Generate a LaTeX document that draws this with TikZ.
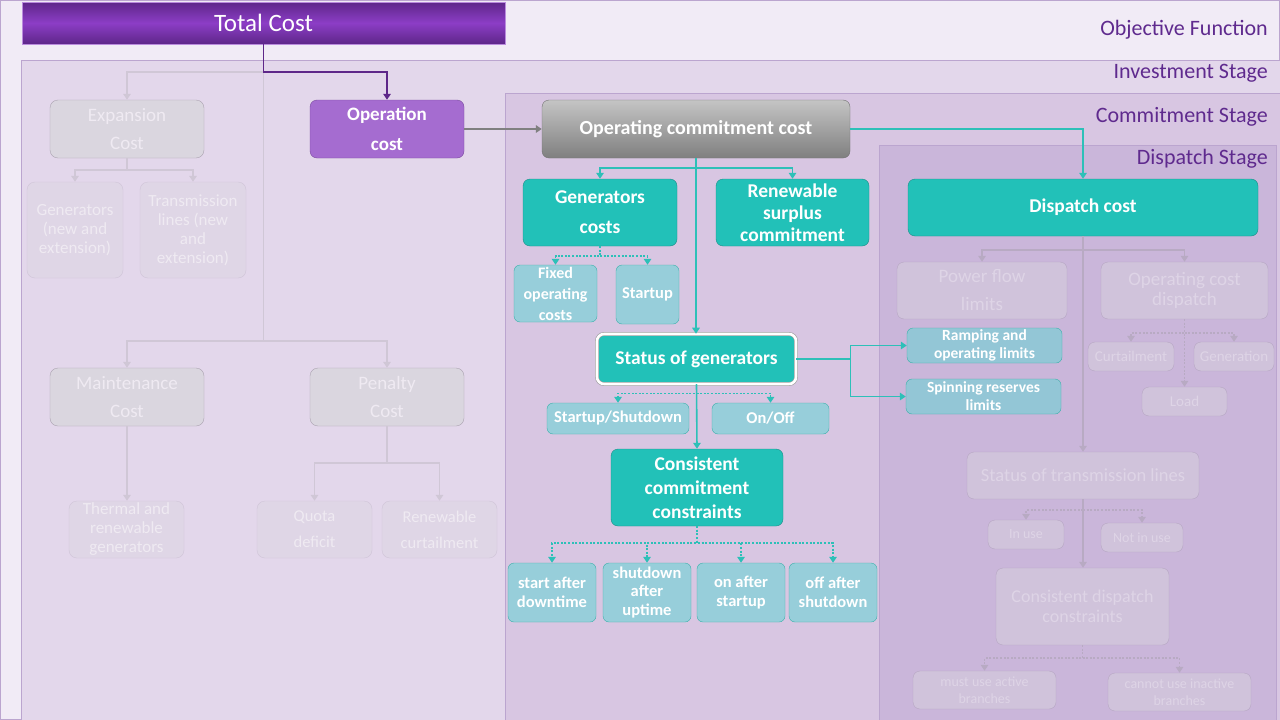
\documentclass[tikz,border=0pt]{standalone}
\usepackage{fontspec}
\setmainfont{Carlito}
\usetikzlibrary{arrows.meta}
\definecolor{objfill}{HTML}{F1EBF6}
\definecolor{invfill}{HTML}{E3D7EB}
\definecolor{comfill}{HTML}{D8C6E2}
\definecolor{disfill}{HTML}{CAB6DA}
\definecolor{stageline}{HTML}{BBA5CF}
\definecolor{stagetxt}{HTML}{5F2A8E}
\definecolor{purpdark}{HTML}{5E2789}
\definecolor{purpmid}{HTML}{8C3DC6}
\definecolor{opfill}{HTML}{A56CD0}
\definecolor{opdraw}{HTML}{7A4A9E}
\definecolor{tealfill}{HTML}{22C1B8}
\definecolor{tealdraw}{HTML}{1C8C86}
\definecolor{tealcol}{HTML}{2DC0B8}
\definecolor{leaffill}{HTML}{97CEDA}
\definecolor{limfill}{HTML}{93C6D6}
\definecolor{leafdraw}{HTML}{3AB0AA}
\definecolor{fadefill}{HTML}{DAD6DF}
\definecolor{fadedraw}{HTML}{ABA3B1}
\definecolor{fadeleaf}{HTML}{DFD6E6}
\definecolor{fadeleafdraw}{HTML}{D0C5D8}
\definecolor{fadetxt}{HTML}{EFEAF2}
\definecolor{fadecol}{HTML}{D0C7D6}
\definecolor{dimfill}{HTML}{D0C3DB}
\definecolor{dimdraw}{HTML}{B6A6C3}
\definecolor{dimtxt}{HTML}{DED4E6}
\definecolor{dimcol}{HTML}{B8AAC3}
\newcommand{\fsz}[2]{\fontsize{#1}{#2}\selectfont}
\tikzset{
	>={Triangle[length=6pt,width=7.5pt]},
	% stage frames and labels
	stage/.style={draw=stageline, line width=0.8pt},
	stagelabel/.style={anchor=east, inner sep=0pt, text=stagetxt, font=\fsz{22}{26}},
	% objective
	totalbox/.style={draw=purpmid!60, top color=purpdark, bottom color=purpdark, middle color=purpmid,
	                 text=white, font=\fsz{25}{30}},
	opbox/.style={draw=opdraw, fill=opfill, rounded corners=7pt, text=white, align=center,
	              font=\bfseries\fsz{19}{30}, inner sep=1pt},
	greybox/.style={draw=black!55, top color=black!23, bottom color=black!50, rounded corners=7pt,
	                text=white, font=\bfseries\fsz{20}{24}},
	% commitment / dispatch (active)
	tealbox/.style={draw=tealdraw, fill=tealfill, rounded corners=7pt, text=white, align=center,
	                font=\bfseries\fsz{19.5}{23}, inner sep=1pt},
	leafbox/.style={draw=leafdraw, fill=leaffill, rounded corners=6pt, text=white, align=center,
	                font=\bfseries\fsz{16.5}{19}, inner sep=1pt},
	% faded boxes
	fadebox/.style={draw=fadedraw, fill=fadefill, rounded corners=8pt, text=fadetxt, align=center,
	                font=\fsz{19}{28}, inner sep=1pt},
	fadesmall/.style={draw=fadeleafdraw, fill=fadeleaf, rounded corners=8pt, text=fadetxt, align=center,
	                  font=\fsz{17}{19}, inner sep=1pt},
	dimbox/.style={draw=dimdraw, fill=dimfill, rounded corners=7pt, text=dimtxt, align=center,
	               font=\fsz{19}{20}, inner sep=1pt},
	% connectors
	purpleline/.style={draw=purpdark, line width=1.8pt},
	greyline/.style={draw=black!50, line width=1.6pt},
	tealline/.style={draw=tealcol, line width=1.6pt},
	tealdot/.style={tealline, dash pattern=on 2pt off 1.6pt},
	fadeline/.style={draw=fadecol, line width=1.7pt},
	dimline/.style={draw=dimcol, line width=1.6pt},
	dimdot/.style={dimline, dash pattern=on 2pt off 1.6pt},
}

\begin{document}
\begin{tikzpicture}[x=1pt, y=-1pt]
    \useasboundingbox (0,0) rectangle (1280,720);
    % stages
    \draw[stage, fill=objfill] (0.5,0.5) rectangle (1279.5,719.5);
    \draw[stage, fill=invfill] (21,60) rectangle (1283,723);
    \draw[stage, fill=comfill] (505,93) rectangle (1283,723);
    \draw[stage, fill=disfill] (879,145) rectangle (1276,723);
    \node[stagelabel] (lobj) at (1268,30) {Objective Function};
    \node[stagelabel] (linv) at (1268,73) {Investment Stage};
    \node[stagelabel] (lcom) at (1268,117) {Commitment Stage};
    \node[stagelabel] (ldis) at (1268,159) {Dispatch Stage};

    % objective function
    \node[totalbox, minimum width=483pt, minimum height=42pt] (total) at (263.5,23) {Total Cost};
    \node[opbox, minimum width=154pt, minimum height=58pt] (opcost) at (387,129) {Operation\\cost};

    % investment stage
    \node[fadebox, minimum width=154pt, minimum height=58pt] (expcost) at (127,129) {Expansion\\Cost};
    \node[fadesmall, minimum width=96pt, minimum height=96pt] (genexp) at (75,230) {Generators\\(new and\\extension)};
    \node[fadesmall, minimum width=106pt, minimum height=96pt] (trexp) at (193,230) {Transmission\\lines (new\\and\\extension)};
    \node[fadebox, minimum width=154pt, minimum height=58pt] (maint) at (127,397) {Maintenance\\Cost};
    \node[fadebox, minimum width=154pt, minimum height=58pt] (penalty) at (387,397) {Penalty\\Cost};
    \node[fadesmall, minimum width=115pt, minimum height=57pt] (thermal) at (126.5,529.5) {Thermal and\\renewable\\generators};
    \node[fadesmall, minimum width=115pt, minimum height=57pt, font=\fsz{16.5}{26}] (quota) at (314.5,529.5) {Quota\\deficit};
    \node[fadesmall, minimum width=115pt, minimum height=57pt, font=\fsz{16.5}{26}] (rencurt) at (439.5,529.5) {Renewable\\curtailment};

    % commitment stage
    \node[greybox, minimum width=308pt, minimum height=58pt] (occ) at (696,129) {Operating commitment cost};
    \node[tealbox, minimum width=154pt, minimum height=67pt, font=\bfseries\fsz{19.5}{30}] (gencost) at (600,212.5) {Generators\\costs};
    \node[tealbox, minimum width=153pt, minimum height=67pt, font=\bfseries\fsz{19.5}{22}] (rensur) at (792.5,212.5) {Renewable\\surplus\\commitment};
    \node[leafbox, minimum width=83pt, minimum height=57pt, font=\bfseries\fsz{16}{21}] (fixed) at (555.5,293.5) {Fixed\\operating\\costs};
    \node[leafbox, minimum width=63pt, minimum height=59pt] (startup) at (647.5,294.5) {Startup};
    \node[tealbox, minimum width=199pt, minimum height=50pt, draw=black!38, line width=0.6pt,
          double=white, double distance=2.6pt] (status) at (696.5,359) {Status of generators};
    \node[leafbox, minimum width=142pt, minimum height=31pt] (startshut) at (618,418.5) {Startup/Shutdown};
    \node[leafbox, minimum width=117pt, minimum height=31pt] (onoff) at (770.5,418.5) {On/Off};
    \node[tealbox, minimum width=172pt, minimum height=77pt, font=\bfseries\fsz{19.5}{24}] (ccc) at (697,487.5) {Consistent\\commitment\\constraints};
    \node[leafbox, minimum width=88pt, minimum height=59pt] (sadt) at (552,592.5) {start after\\downtime};
    \node[leafbox, minimum width=88pt, minimum height=59pt, font=\bfseries\fsz{16.5}{18.5}] (sdau) at (647,592.5) {shutdown\\after\\uptime};
    \node[leafbox, minimum width=88pt, minimum height=59pt] (oas) at (741,592.5) {on after\\startup};
    \node[leafbox, minimum width=88pt, minimum height=59pt] (ofas) at (833,592.5) {off after\\shutdown};

    % dispatch stage
    \node[tealbox, minimum width=350pt, minimum height=57pt] (dispatch) at (1083,207.5) {Dispatch cost};
    \node[leafbox, minimum width=155pt, minimum height=35pt, fill=limfill, font=\bfseries\fsz{15.5}{18.5}] (ramping) at (984.5,345.5) {Ramping and\\operating limits};
    \node[leafbox, minimum width=155pt, minimum height=35pt, fill=limfill, font=\bfseries\fsz{15.5}{18}] (spinning) at (983.5,396.5) {Spinning reserves\\limits};
    \node[dimbox, minimum width=170pt, minimum height=57pt, font=\fsz{19}{28}] (pfl) at (982,290.5) {Power flow\\limits};
    \node[dimbox, minimum width=167pt, minimum height=57pt] (ocd) at (1184.5,290.5) {Operating cost\\dispatch};
    \node[dimbox, minimum width=86pt, minimum height=29pt, font=\fsz{15}{17}] (curt) at (1131,356.5) {Curtailment};
    \node[dimbox, minimum width=80pt, minimum height=29pt, font=\fsz{15}{17}] (gener) at (1234,356.5) {Generation};
    \node[dimbox, minimum width=85pt, minimum height=29pt, font=\fsz{15}{17}] (load) at (1184.5,401.5) {Load};
    \node[dimbox, minimum width=232pt, minimum height=47pt, font=\fsz{18.5}{20}] (stl) at (1083,475.5) {Status of transmission lines};
    \node[dimbox, minimum width=76pt, minimum height=29pt, font=\fsz{14}{16}] (inuse) at (1026,534.5) {In use};
    \node[dimbox, minimum width=82pt, minimum height=29pt, font=\fsz{14}{16}] (notinuse) at (1142,537.5) {Not in use};
    \node[dimbox, minimum width=173pt, minimum height=77pt, font=\fsz{18}{20}] (cdc) at (1082.5,606.5) {Consistent dispatch\\constraints};
    \node[dimbox, minimum width=143pt, minimum height=38pt, font=\fsz{14}{17}] (mustuse) at (984.5,690) {must use active\\branches};
    \node[dimbox, minimum width=143pt, minimum height=38pt, font=\fsz{14}{17}] (cannot) at (1179.5,692) {cannot use inactive\\branches};

    % investment connectors
    \coordinate (invsplit) at (263.5,341);
    \draw[fadeline] (total.south) -- (invsplit);
    \draw[fadeline, ->] (total.south) ++(0,28) -| (expcost.north);
    \draw[fadeline, ->] (invsplit) -| (maint.north);
    \draw[fadeline, ->] (invsplit) -| (penalty.north);
    \draw[fadeline, ->] (expcost.south) -- ++(0,12) -| (genexp.north);
    \draw[fadeline, ->] (expcost.south) ++(0,12) -| (trexp.north);
    \draw[fadeline, ->] (maint.south) -- (maint.south |- thermal.north);
    \draw[fadeline, ->] (penalty.south) -- ++(0,37) -| (quota.north);
    \draw[fadeline, ->] (penalty.south) ++(0,37) -| (rencurt.north);
    \draw[purpleline, ->] (total.south) -- ++(0,28) -| (opcost.north);
    \draw[greyline, ->] (opcost.east) -- (occ.west);

    % commitment connectors
    \draw[tealline, ->] (occ.east) -| (dispatch.north);
    \draw[tealline, ->] (occ.south) -- (occ.south |- status.north);
    \draw[tealline, ->] (occ.south) ++(0,10) -| (gencost.north);
    \draw[tealline, ->] (occ.south) ++(0,10) -| (rensur.north);
    \draw[tealdot, ->] (gencost.south) -- ++(0,10) -| (fixed.north);
    \draw[tealdot, ->] (gencost.south) ++(0,10) -| (startup.north);
    \draw[tealline] (status.east) -- ++(54,0) coordinate (statsplit);
    \draw[tealline, ->] (statsplit) |- (ramping.west);
    \draw[tealline, ->] (statsplit) |- (spinning.west);
    \draw[tealdot, ->] (status.south) -- ++(0,9) -| (startshut.north);
    \draw[tealdot, ->] (status.south) ++(0,9) -| (onoff.north);
    \draw[tealline, ->] (status.south) -- (ccc.north);
    \foreach \n in {sadt,sdau,oas,ofas}
      \draw[tealdot, ->] (ccc.south) -- ++(0,17) -| (\n.north);

    % dispatch connectors
    \draw[dimline, ->] (dispatch.south) -- (stl.north);
    \draw[dimline, ->] (stl.south) -- (stl.south |- cdc.north);
    \draw[dimline, ->] (dispatch.south) ++(0,14) -| (pfl.north);
    \draw[dimline, ->] (dispatch.south) ++(0,14) -| (ocd.north);
    \draw[dimdot, ->] (ocd.south) -- ++(0,14) -| (curt.north);
    \draw[dimdot, ->] (ocd.south) ++(0,14) -| (gener.north);
    \draw[dimdot, ->] (ocd.south) -- (load.north);
    \draw[dimdot, ->] (stl.south) -- ++(0,11) -| (inuse.north);
    \draw[dimdot, ->] (stl.south) ++(0,11) -| (notinuse.north);
    \draw[dimdot, ->] (cdc.south) -- ++(0,13) -| (mustuse.north);
    \draw[dimdot, ->] (cdc.south) ++(0,13) -| (cannot.north);
  \end{tikzpicture}
\end{document}
